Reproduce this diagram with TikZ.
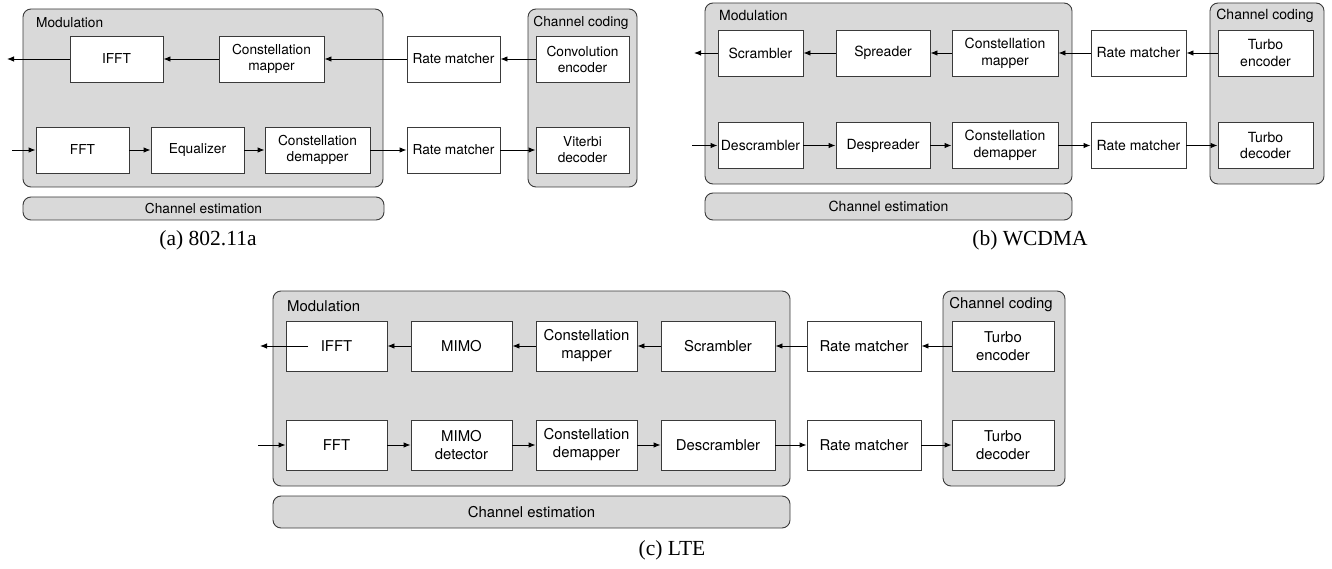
\documentclass[tikz,border=0pt]{standalone}
\usepackage{fontspec}
\setmainfont{Liberation Serif}
\newfontfamily\labfont{TeX Gyre Heros}
\usetikzlibrary{arrows.meta}
\definecolor{panelgray}{HTML}{D9D9D9}
\definecolor{edgegray}{HTML}{3A3A3A}
\tikzset{
  lab/.style={font=\labfont\fontsize{13.7}{16}\selectfont},
  blk/.style={lab, draw=edgegray, line width=0.9pt, fill=white, inner sep=0pt,
    align=center, minimum height=46pt},
  grp/.style={draw=edgegray, line width=0.9pt, fill=panelgray, rounded corners=8pt,
    inner sep=0pt},
  grplabel/.style={lab, inner sep=0pt, anchor=west},
  estbox/.style={grp, lab},
  arr/.style={draw=black, line width=0.9pt, -{Latex[length=7pt,width=5.5pt]}},
  capt/.style={font=\fontsize{21.5}{25}\selectfont, inner sep=0pt}
}
\begin{document}
\begin{tikzpicture}[x=1pt,y=-1pt]
\useasboundingbox (0,0) rectangle (1332,569);

% ---------------- (a) 802.11a ----------------
\begin{scope}[lab/.style={font=\labfont\fontsize{13.7}{16}\selectfont}]
\node[grp, minimum width=360pt, minimum height=178pt] (a-mod) at (203,98) {};
\node[grplabel] (a-modlab) at (36,23) {Modulation};
\node[grp, minimum width=109pt, minimum height=178pt] (a-cc) at (582.5,98) {};
\node[lab, inner sep=0pt] (a-cclab) at (581,23) {Channel coding};
\node[estbox, minimum width=361pt, minimum height=23pt] (a-est) at (203.5,208.5) {Channel estimation};

\node[blk, minimum width=93pt] (a-ifft) at (116.5,59) {IFFT};
\node[blk, minimum width=105pt] (a-cmap) at (271.5,59) {Constellation\\mapper};
\node[blk, minimum width=93pt] (a-rm1) at (453.5,59) {Rate matcher};
\node[blk, minimum width=93pt] (a-enc) at (582.5,59) {Convolution\\encoder};

\node[blk, minimum width=93pt] (a-fft) at (82.5,150) {FFT};
\node[blk, minimum width=93pt] (a-eq) at (197.5,150) {Equalizer};
\node[blk, minimum width=105pt] (a-cdem) at (317.5,150) {Constellation\\demapper};
\node[blk, minimum width=93pt] (a-rm2) at (453.5,150) {Rate matcher};
\node[blk, minimum width=93pt] (a-dec) at (582.5,150) {Viterbi\\decoder};

\coordinate (a-out) at (7,59);
\coordinate (a-in) at (12,150);

\draw[arr] (a-enc) -- (a-rm1);
\draw[arr] (a-rm1) -- (a-cmap);
\draw[arr] (a-cmap) -- (a-ifft);
\draw[arr] (a-ifft) -- (a-out);
\draw[arr] (a-in) -- (a-fft);
\draw[arr] (a-fft) -- (a-eq);
\draw[arr] (a-eq) -- (a-cdem);
\draw[arr] (a-cdem) -- (a-rm2);
\draw[arr] (a-rm2) -- (a-dec);
\end{scope}

\node[capt] (a-cap) at (208,240) {(a)\ 802.11a};

% ---------------- (b) WCDMA ----------------
\begin{scope}[lab/.style={font=\labfont\fontsize{14}{16.8}\selectfont}]
\node[grp, minimum width=367pt, minimum height=181pt] (b-mod) at (888.5,93.5) {};
\node[grplabel] (b-modlab) at (719,16) {Modulation};
\node[grp, minimum width=114pt, minimum height=181pt] (b-cc) at (1267,93.5) {};
\node[lab, inner sep=0pt] (b-cclab) at (1265,16) {Channel coding};
\node[estbox, minimum width=367pt, minimum height=27pt] (b-est) at (888.5,206.5) {Channel estimation};

\node[blk, minimum width=85pt] (b-scr) at (760.5,53) {Scrambler};
\node[blk, minimum width=94pt] (b-spr) at (883,53) {Spreader};
\node[blk, minimum width=106pt] (b-cmap) at (1005,53) {Constellation\\mapper};
\node[blk, minimum width=95pt] (b-rm1) at (1138.5,53) {Rate matcher};
\node[blk, minimum width=95pt] (b-enc) at (1265.5,53) {Turbo\\encoder};

\node[blk, minimum width=85pt] (b-dscr) at (760.5,145.5) {Descrambler};
\node[blk, minimum width=94pt] (b-dspr) at (883,145.5) {Despreader};
\node[blk, minimum width=106pt] (b-cdem) at (1005,145.5) {Constellation\\demapper};
\node[blk, minimum width=95pt] (b-rm2) at (1138.5,145.5) {Rate matcher};
\node[blk, minimum width=95pt] (b-dec) at (1265.5,145.5) {Turbo\\decoder};

\coordinate (b-out) at (694,53);
\coordinate (b-in) at (692,145.5);

\draw[arr] (b-enc) -- (b-rm1);
\draw[arr] (b-rm1) -- (b-cmap);
\draw[arr] (b-cmap) -- (b-spr);
\draw[arr] (b-spr) -- (b-scr);
\draw[arr] (b-scr) -- (b-out);
\draw[arr] (b-in) -- (b-dscr);
\draw[arr] (b-dscr) -- (b-dspr);
\draw[arr] (b-dspr) -- (b-cdem);
\draw[arr] (b-cdem) -- (b-rm2);
\draw[arr] (b-rm2) -- (b-dec);
\end{scope}

\node[capt] (b-cap) at (1030,240) {(b)\ WCDMA};

% ---------------- (c) LTE ----------------
\begin{scope}[lab/.style={font=\labfont\fontsize{14.9}{18}\selectfont}]
\node[grp, minimum width=517pt, minimum height=195pt] (c-mod) at (531.5,388.5) {};
\node[grplabel] (c-modlab) at (287,306) {Modulation};
\node[grp, minimum width=122pt, minimum height=195pt] (c-cc) at (1004,388.5) {};
\node[lab, inner sep=0pt] (c-cclab) at (1001,305) {Channel coding};
\node[estbox, minimum width=517pt, minimum height=32pt] (c-est) at (531.5,512) {Channel estimation};

\node[blk, minimum width=101pt, minimum height=50pt] (c-ifft) at (336.5,346) {IFFT};
\node[blk, minimum width=101pt, minimum height=50pt] (c-mimo) at (461.5,346) {MIMO};
\node[blk, minimum width=101pt, minimum height=50pt] (c-cmap) at (586.5,346) {Constellation\\mapper};
\node[blk, minimum width=114pt, minimum height=50pt] (c-scr) at (718,346) {Scrambler};
\node[blk, minimum width=114pt, minimum height=50pt] (c-rm1) at (864,346) {Rate matcher};
\node[blk, minimum width=102pt, minimum height=50pt] (c-enc) at (1003,346) {Turbo\\encoder};

\node[blk, minimum width=101pt, minimum height=50pt] (c-fft) at (336.5,445) {FFT};
\node[blk, minimum width=101pt, minimum height=50pt] (c-mdet) at (461.5,445) {MIMO\\detector};
\node[blk, minimum width=101pt, minimum height=50pt] (c-cdem) at (586.5,445) {Constellation\\demapper};
\node[blk, minimum width=114pt, minimum height=50pt] (c-dscr) at (718,445) {Descrambler};
\node[blk, minimum width=114pt, minimum height=50pt] (c-rm2) at (864,445) {Rate matcher};
\node[blk, minimum width=102pt, minimum height=50pt] (c-dec) at (1003,445) {Turbo\\decoder};

\coordinate (c-out) at (260,346);
\coordinate (c-ifftsrc) at (308,346);
\coordinate (c-in) at (258,445);

\draw[arr] (c-enc) -- (c-rm1);
\draw[arr] (c-rm1) -- (c-scr);
\draw[arr] (c-scr) -- (c-cmap);
\draw[arr] (c-cmap) -- (c-mimo);
\draw[arr] (c-mimo) -- (c-ifft);
\draw[arr] (c-ifftsrc) -- (c-out);
\draw[arr] (c-in) -- (c-fft);
\draw[arr] (c-fft) -- (c-mdet);
\draw[arr] (c-mdet) -- (c-cdem);
\draw[arr] (c-cdem) -- (c-dscr);
\draw[arr] (c-dscr) -- (c-rm2);
\draw[arr] (c-rm2) -- (c-dec);
\end{scope}

\node[capt] (c-cap) at (672,550) {(c)\ LTE};
\end{tikzpicture}
\end{document}
